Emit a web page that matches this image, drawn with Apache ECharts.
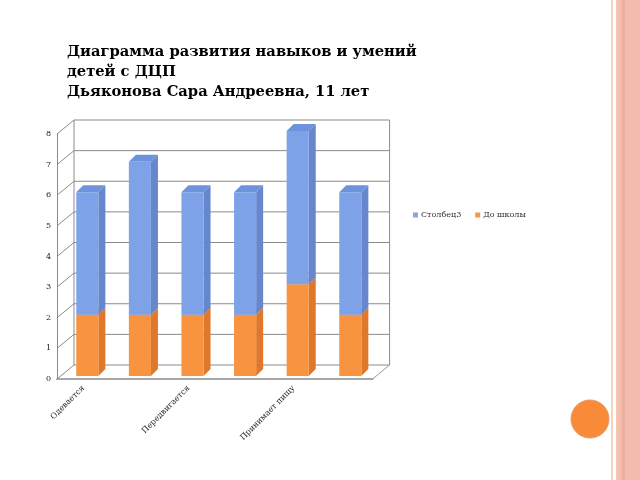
<!DOCTYPE html>
<html><head><meta charset="utf-8">
<script src="https://cdn.jsdelivr.net/npm/echarts@6/dist/echarts.min.js"></script>
<style>html,body{margin:0;padding:0;background:#fff}#c{width:640px;height:480px}</style>
</head><body><div id="c"></div>
<script>
var categories = ['Одевается', '', 'Передвигается', '', 'Принимает пищу', ''];
var beforeSchool = [2, 2, 2, 2, 3, 2];      // До школы
var column3 = [4, 5, 4, 4, 5, 4];           // Столбец3 (stacked on top)
var yTicks = [0, 1, 2, 3, 4, 5, 6, 7, 8];
var titleLines = ['Диаграмма развития навыков и умений', 'детей с ДЦП', 'Дьяконова Сара Андреевна, 11 лет'];
var seriesNames = ['Столбец3', 'До школы'];

var DX = 17, DY = -14; // back wall depth offset

var orangeData = beforeSchool.map(function (v, i) { return [i, 0, v]; });
var blueData = column3.map(function (v, i) { return [i, beforeSchool[i], beforeSchool[i] + v]; });

function bar3d(front, side, top) {
  return function (params, api) {
    var i = api.value(0), lo = api.value(1), hi = api.value(2);
    var p0 = api.coord([i, lo]), p1 = api.coord([i, hi]);
    var w = api.size([1, 0])[0] * 0.42;
    var x = p0[0] - w / 2 + 4, yb = p0[1] - 3, yt = p1[1] - 3;
    var dx = 7, dy = -7;
    return { type: 'group', children: [
      { type: 'polygon', shape: { points: [[x + w, yt], [x + w + dx, yt + dy], [x + w + dx, yb + dy], [x + w, yb]] }, style: { fill: side } },
      { type: 'polygon', shape: { points: [[x, yt], [x + dx, yt + dy], [x + w + dx, yt + dy], [x + w, yt]] }, style: { fill: top } },
      { type: 'rect', shape: { x: x, y: yt, width: w, height: yb - yt }, style: { fill: front } }
    ]};
  };
}

function frame(params, api) {
  var cs = params.coordSys;
  var v = api.value(0);
  var y = api.coord([0, v])[1];
  var x0 = cs.x, x1 = cs.x + cs.width;
  var ch = [
    { type: 'line', shape: { x1: x0, y1: y, x2: x0 + DX, y2: y + DY }, style: { stroke: '#8a8a8a', lineWidth: 1 } },
    { type: 'line', shape: { x1: x0 + DX, y1: y + DY, x2: x1 + DX, y2: y + DY }, style: { stroke: '#8a8a8a', lineWidth: 1 } }
  ];
  if (v === yTicks[0]) {
    var yTop = api.coord([0, yTicks[yTicks.length - 1]])[1];
    ch.push({ type: 'line', shape: { x1: x0 + DX, y1: y + DY, x2: x0 + DX, y2: yTop + DY }, style: { stroke: '#8a8a8a', lineWidth: 1 } });
    ch.push({ type: 'line', shape: { x1: x1 + DX, y1: y + DY, x2: x1 + DX, y2: yTop + DY }, style: { stroke: '#8a8a8a', lineWidth: 1 } });
    ch.push({ type: 'line', shape: { x1: x1, y1: y, x2: x1 + DX, y2: y + DY }, style: { stroke: '#9a9a9a', lineWidth: 1 } });
  }
  return { type: 'group', children: ch };
}

var chart = echarts.init(document.getElementById('c'), null, { renderer: 'canvas' });
chart.setOption({
  animation: false,
  backgroundColor: '#fff',
  title: {
    text: titleLines.join('\n'),
    left: 67, top: 42, padding: 0,
    textStyle: { fontFamily: 'DejaVu Serif', fontWeight: 'bold', fontSize: 14.7, lineHeight: 20, color: '#000' }
  },
  legend: {
    data: seriesNames,
    left: 408, top: 206,
    itemWidth: 5, itemHeight: 5, itemGap: 14, icon: 'rect',
    textStyle: { fontFamily: 'DejaVu Serif', fontSize: 8, color: '#333', padding: [0, 0, 0, -2] }
  },
  grid: { left: 57, top: 134, width: 315.6, height: 245, containLabel: false },
  xAxis: {
    type: 'category', data: categories, boundaryGap: true,
    axisLine: { show: true, lineStyle: { color: '#a8a8a8', width: 2 } },
    axisTick: { show: false },
    axisLabel: { interval: 0, rotate: 45, fontFamily: 'DejaVu Serif', fontSize: 8, color: '#222', margin: 8 }
  },
  yAxis: {
    type: 'value', min: 0, max: 8, interval: 1,
    axisLine: { show: true, lineStyle: { color: '#8a8a8a', width: 1 } },
    axisTick: { show: false },
    splitLine: { show: false },
    axisLabel: { fontFamily: 'DejaVu Serif', fontSize: 8, color: '#222', margin: 6 }
  },
  series: [
    { type: 'custom', name: '_frame', silent: true, data: yTicks.map(function (t) { return [t]; }), renderItem: frame, encode: { y: 0 }, z: 1 },
    { type: 'custom', name: seriesNames[1], data: orangeData, renderItem: bar3d('#f89440', '#e0782c', '#f3a060'), encode: { x: 0, y: [1, 2] }, itemStyle: { color: '#f79646' }, z: 2 },
    { type: 'custom', name: seriesNames[0], data: blueData, renderItem: bar3d('#7da2e8', '#6687cc', '#6e93dc'), encode: { x: 0, y: [1, 2] }, itemStyle: { color: '#8aa6dc' }, z: 3 }
  ],
  graphic: [
    { type: 'rect', shape: { x: 611, y: 0, width: 2, height: 480 }, style: { fill: '#f6d2c0' }, silent: true },
    { type: 'rect', shape: { x: 616, y: 0, width: 24, height: 480 }, style: { fill: '#f2bcac' }, silent: true },
    { type: 'rect', shape: { x: 616, y: 0, width: 3, height: 480 }, style: { fill: '#f4c4b0' }, silent: true },
    { type: 'rect', shape: { x: 622, y: 0, width: 3, height: 480 }, style: { fill: '#eeb09e' }, silent: true },
    { type: 'circle', shape: { cx: 590, cy: 419, r: 19 }, style: { fill: '#f98a38', stroke: '#e59a6a', lineWidth: 1 }, silent: true }
  ]
});
</script></body></html>
